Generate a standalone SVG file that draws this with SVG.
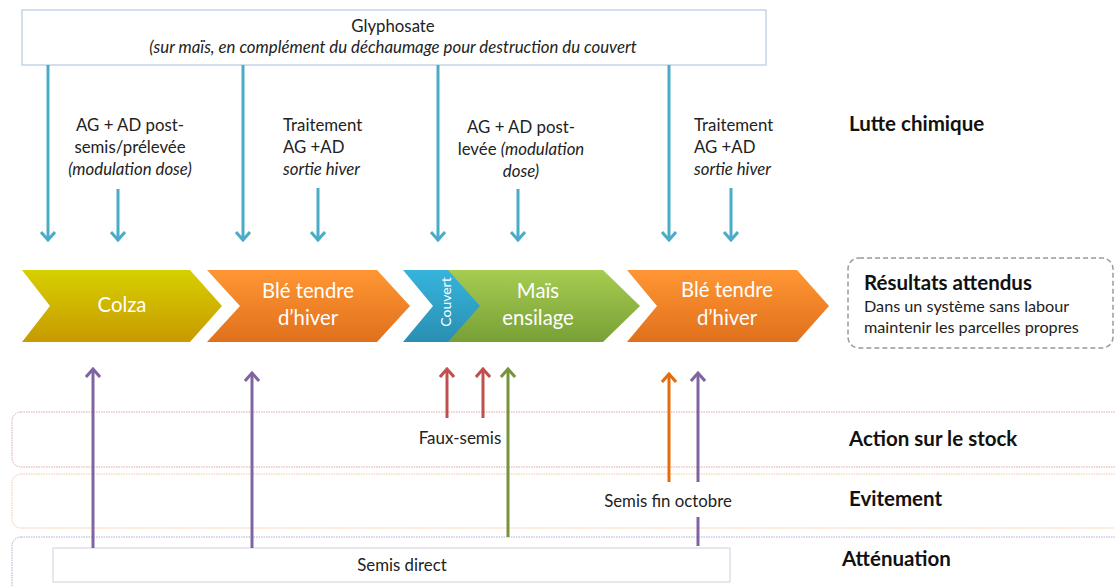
<svg xmlns="http://www.w3.org/2000/svg" width="1115" height="586" viewBox="0 0 1115 586">
<style>
  text{font-family:Lato,"Liberation Sans",sans-serif;fill:#222}
  .t{font-size:16.8px}
  .i{font-style:italic}
  .lab{font-size:20.5px;font-weight:bold;fill:#111}
  .chev{font-size:20.3px;fill:#fff;text-anchor:middle}
  .c{text-anchor:middle}
  .arr{fill:none;stroke-width:3}
  .blue{stroke:#4bacc6}
  .purple{stroke:#8064a2}
  .red{stroke:#c0504d}
  .green{stroke:#77933c}
  .orange{stroke:#e46c0a}
  .band{fill:#fff;stroke-width:1;stroke-dasharray:1.5 1}
</style>
<defs>
  <marker id="mBlue" viewBox="0 0 16 16" refX="14" refY="8" markerWidth="16" markerHeight="16" markerUnits="userSpaceOnUse" orient="auto"><path d="M6,1 L14,8 L6,15" fill="none" stroke="#4bacc6" stroke-width="3"/></marker>
  <marker id="mPurple" viewBox="0 0 16 16" refX="14" refY="8" markerWidth="16" markerHeight="16" markerUnits="userSpaceOnUse" orient="auto"><path d="M6,1 L14,8 L6,15" fill="none" stroke="#8064a2" stroke-width="3"/></marker>
  <marker id="mRed" viewBox="0 0 16 16" refX="14" refY="8" markerWidth="16" markerHeight="16" markerUnits="userSpaceOnUse" orient="auto"><path d="M6,1 L14,8 L6,15" fill="none" stroke="#c0504d" stroke-width="3"/></marker>
  <marker id="mGreen" viewBox="0 0 16 16" refX="14" refY="8" markerWidth="16" markerHeight="16" markerUnits="userSpaceOnUse" orient="auto"><path d="M6,1 L14,8 L6,15" fill="none" stroke="#77933c" stroke-width="3"/></marker>
  <marker id="mOrange" viewBox="0 0 16 16" refX="14" refY="8" markerWidth="16" markerHeight="16" markerUnits="userSpaceOnUse" orient="auto"><path d="M6,1 L14,8 L6,15" fill="none" stroke="#e46c0a" stroke-width="3"/></marker>
  <linearGradient id="gColza" x1="0" y1="0" x2="0" y2="1"><stop offset="0" stop-color="#d6d000"/><stop offset="1" stop-color="#c89a00"/></linearGradient>
  <linearGradient id="gBle" x1="0" y1="0" x2="0" y2="1"><stop offset="0" stop-color="#ff9633"/><stop offset="1" stop-color="#e0701c"/></linearGradient>
  <linearGradient id="gCouv" x1="0" y1="0" x2="0" y2="1"><stop offset="0" stop-color="#36b4dc"/><stop offset="1" stop-color="#2a8fb2"/></linearGradient>
  <linearGradient id="gMais" x1="0" y1="0" x2="0" y2="1"><stop offset="0" stop-color="#a6cc50"/><stop offset="1" stop-color="#78a036"/></linearGradient>
</defs>

<!-- bands -->
<g id="band-stock"><rect class="band" x="12" y="412" width="1110" height="55" rx="9" stroke="#e3a3a3"/></g>
<g id="band-evitement"><rect class="band" x="12" y="474" width="1110" height="54" rx="9" stroke="#f8c598"/></g>
<g id="band-attenuation"><rect class="band" x="12" y="537" width="1110" height="60" rx="9" stroke="#b8a8cc"/></g>

<g id="glyphosate">
  <rect x="22" y="10" width="744" height="55" fill="#fff" stroke="#c3d5ea" stroke-width="1.5"/>
  <text class="t c" x="393" y="32">Glyphosate</text>
  <text class="t c i" x="393" y="53">(sur maïs, en complément du déchaumage pour destruction du couvert</text>
</g>

<g id="txt-ag1">
  <text class="t c" x="130" y="131">AG + AD post-</text>
  <text class="t c" x="130" y="153">semis/prélevée</text>
  <text class="t c i" x="130" y="175">(modulation dose)</text>
</g>
<g id="txt-trait1">
  <text class="t" x="283" y="131">Traitement</text>
  <text class="t" x="283" y="153">AG +AD</text>
  <text class="t i" x="283" y="175">sortie hiver</text>
</g>
<g id="txt-ag2">
  <text class="t c" x="521" y="133">AG + AD post-</text>
  <text class="t c" x="521" y="155">levée <tspan class="i">(modulation</tspan></text>
  <text class="t c i" x="521" y="177">dose)</text>
</g>
<g id="txt-trait2">
  <text class="t" x="694" y="131">Traitement</text>
  <text class="t" x="694" y="153">AG +AD</text>
  <text class="t i" x="694" y="175">sortie hiver</text>
</g>
<g id="lutte"><text class="lab" x="849" y="131">Lutte chimique</text></g>

<g id="colza">
  <path d="M22,270 L190,270 L222,306 L190,342 L22,342 L50,306 Z" fill="url(#gColza)"/>
  <text class="chev" x="122" y="312">Colza</text>
</g>
<g id="ble1">
  <path d="M207,270 L377,270 L410,306 L377,342 L207,342 L240,306 Z" fill="url(#gBle)"/>
  <text class="chev" x="308" y="298">Blé tendre</text>
  <text class="chev" x="308" y="325">d’hiver</text>
</g>
<g id="mais">
  <path d="M440,270 L603,270 L640,306 L603,342 L440,342 Z" fill="url(#gMais)"/>
  <text class="chev" x="538" y="298">Maïs</text>
  <text class="chev" x="538" y="325">ensilage</text>
</g>
<g id="couvert">
  <path d="M403,270 L448,270 L480,306 L448,342 L403,342 L433,306 Z" fill="url(#gCouv)"/>
  <text x="451" y="302" transform="rotate(-90 451 302)" style="font-size:14px;fill:#fff;text-anchor:middle">Couvert</text>
</g>
<g id="ble2">
  <path d="M627,270 L797,270 L829,306 L797,342 L627,342 L657,306 Z" fill="url(#gBle)"/>
  <text class="chev" x="727" y="297">Blé tendre</text>
  <text class="chev" x="727" y="325">d’hiver</text>
</g>

<g id="resultats">
  <rect x="848" y="258" width="265" height="90" rx="11" fill="#fff" stroke="#9a9a9a" stroke-width="1.5" stroke-dasharray="5 3"/>
  <text x="864" y="290" style="font-size:20.5px;font-weight:bold;fill:#111">Résultats attendus</text>
  <text x="864" y="312" style="font-size:16.2px">Dans un système sans labour</text>
  <text x="864" y="333" style="font-size:16.2px">maintenir les parcelles propres</text>
</g>

<g id="semis-direct">
  <rect x="53" y="548" width="677" height="34" fill="#fff" stroke="#ddd6e6" stroke-width="1.2"/>
  <text class="c" x="402" y="571" style="font-size:16.8px">Semis direct</text>
</g>

<g id="labels">
  <text class="c" x="460" y="444" style="font-size:17px">Faux-semis</text>
  <text class="c" x="668" y="507" style="font-size:16.8px">Semis fin octobre</text>
  <text class="lab" x="849" y="446">Action sur le stock</text>
  <text class="lab" x="849" y="506">Evitement</text>
  <text class="lab" x="842" y="566">Atténuation</text>
</g>

<g id="connectors">
  <line class="arr blue" x1="48" y1="65" x2="48" y2="240" marker-end="url(#mBlue)"/>
  <line class="arr blue" x1="118" y1="189" x2="118" y2="240" marker-end="url(#mBlue)"/>
  <line class="arr blue" x1="243" y1="65" x2="243" y2="240" marker-end="url(#mBlue)"/>
  <line class="arr blue" x1="318" y1="188" x2="318" y2="240" marker-end="url(#mBlue)"/>
  <line class="arr blue" x1="438" y1="65" x2="438" y2="240" marker-end="url(#mBlue)"/>
  <line class="arr blue" x1="518" y1="189" x2="518" y2="240" marker-end="url(#mBlue)"/>
  <line class="arr blue" x1="669" y1="65" x2="669" y2="240" marker-end="url(#mBlue)"/>
  <line class="arr blue" x1="731" y1="188" x2="731" y2="240" marker-end="url(#mBlue)"/>

  <line class="arr purple" x1="93" y1="548" x2="93" y2="369" marker-end="url(#mPurple)"/>
  <line class="arr purple" x1="252" y1="548" x2="252" y2="373" marker-end="url(#mPurple)"/>
  <line class="arr red" x1="447" y1="418" x2="447" y2="369" marker-end="url(#mRed)"/>
  <line class="arr red" x1="483" y1="418" x2="483" y2="369" marker-end="url(#mRed)"/>
  <line class="arr green" x1="508" y1="537" x2="508" y2="369" marker-end="url(#mGreen)"/>
  <line class="arr orange" x1="669" y1="482" x2="669" y2="374" marker-end="url(#mOrange)"/>
  <line class="arr purple" x1="698" y1="482" x2="698" y2="373" marker-end="url(#mPurple)"/>
  <line class="arr purple" x1="698" y1="517" x2="698" y2="546"/>
</g>
</svg>
